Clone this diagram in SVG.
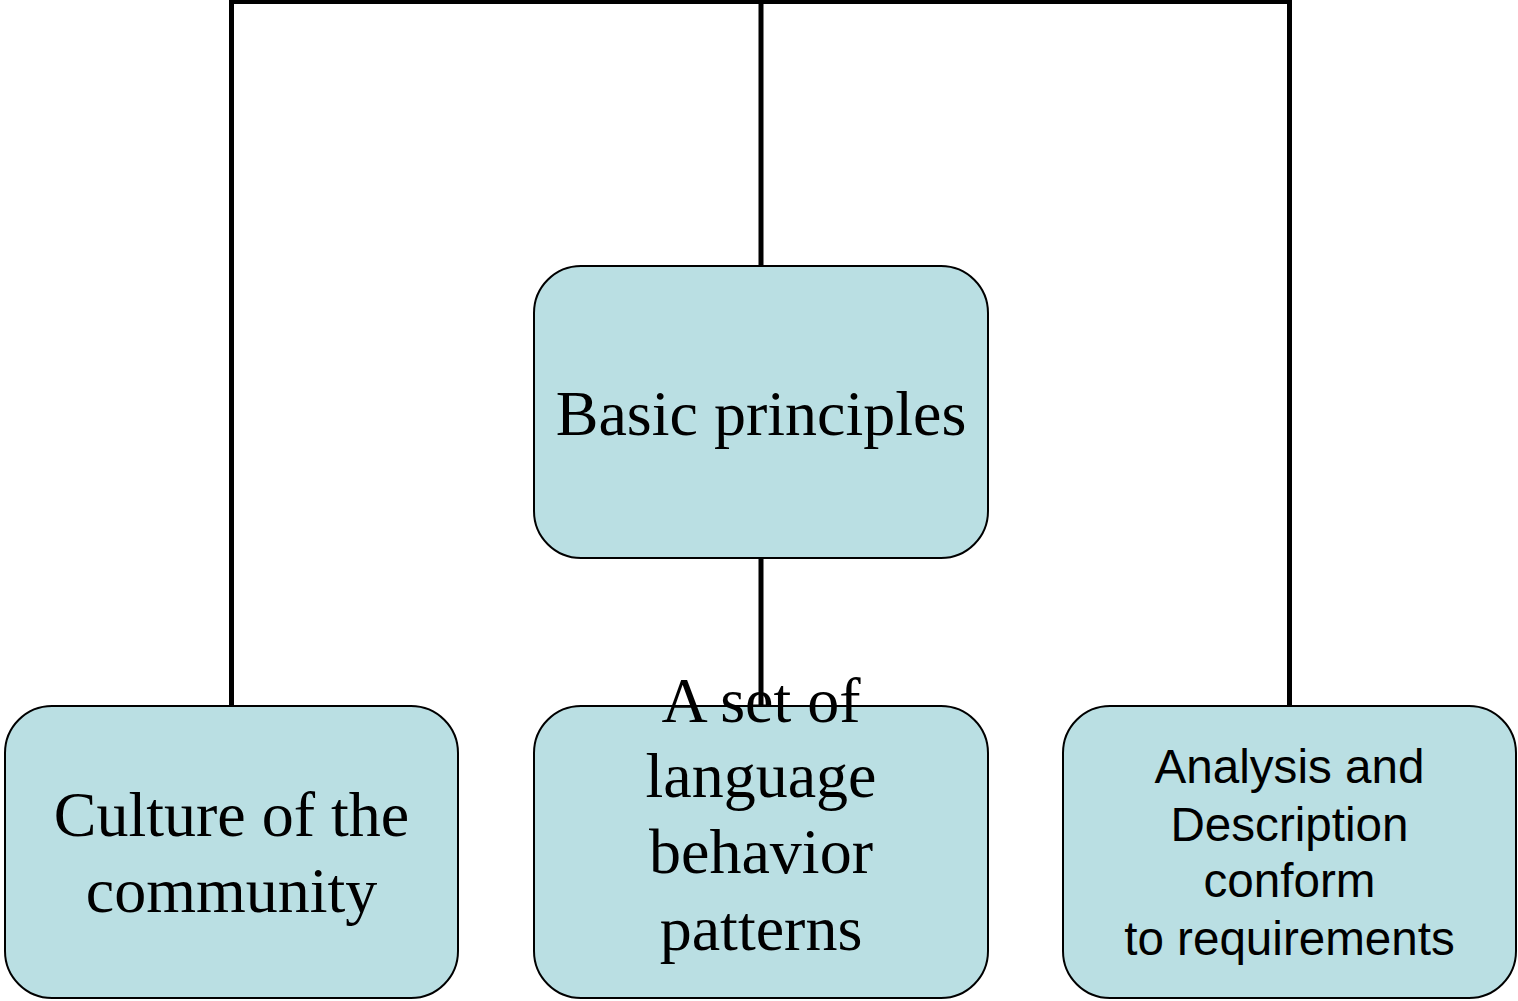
<svg xmlns="http://www.w3.org/2000/svg" width="1518" height="1001" viewBox="0 0 1518 1001">
<style>
.box{fill:#badfe3;stroke:#000;stroke-width:2}
.conn{fill:none;stroke:#000;stroke-width:5}
.serif{font-family:"Liberation Serif","Times New Roman",serif;font-size:64px;fill:#000;text-anchor:middle}
.sans{font-family:"Liberation Sans",Arial,sans-serif;font-size:47.6px;fill:#000;text-anchor:middle}
</style>
<rect width="1518" height="1001" fill="#fff"/>
<g id="connectors">
<path class="conn" d="M231.5,706 V1.5 H1289.5 V706"/>
<path class="conn" d="M761,1.5 V266"/>
<path class="conn" d="M761,558 V705"/>
</g>
<g id="node-basic">
<rect class="box" x="534" y="266" width="454" height="292" rx="47" ry="47"/>
<text class="serif" x="761" y="435">Basic principles</text>
</g>
<g id="node-culture">
<rect class="box" x="5" y="706" width="453" height="292" rx="47" ry="47"/>
<text class="serif" x="231.5" y="836">Culture of the</text>
<text class="serif" x="231.5" y="912">community</text>
</g>
<g id="node-language">
<rect class="box" x="534" y="706" width="454" height="292" rx="47" ry="47"/>
<text class="serif" x="761" y="722">A set of</text>
<text class="serif" x="761" y="797">language</text>
<text class="serif" x="761" y="873">behavior</text>
<text class="serif" x="761" y="950">patterns</text>
</g>
<g id="node-analysis">
<rect class="box" x="1063" y="706" width="453" height="292" rx="47" ry="47"/>
<text class="sans" x="1289.5" y="783">Analysis and</text>
<text class="sans" x="1289.5" y="841">Description</text>
<text class="sans" x="1289.5" y="897">conform</text>
<text class="sans" x="1289.5" y="955">to requirements</text>
</g>
</svg>
